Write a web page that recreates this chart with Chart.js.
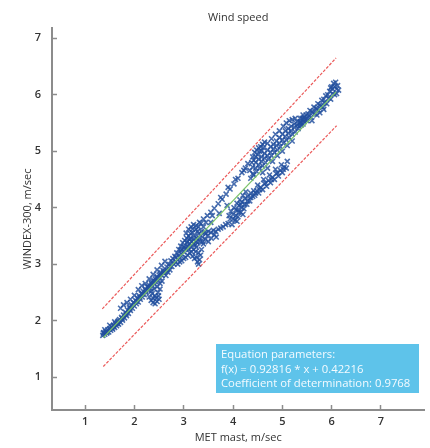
<!DOCTYPE html>
<html>
<head>
<meta charset="utf-8">
<script src="https://cdn.jsdelivr.net/npm/chart.js@4.4.0/dist/chart.umd.min.js"></script>
<style>
  html, body { margin: 0; padding: 0; background: #fff; }
  #wrap { width: 430px; height: 448px; }
</style>
</head>
<body>
<div id="wrap"><canvas id="windChart"></canvas></div>
<script>
// --- DATA: [MET mast, WINDEX-300] pairs, m/sec ---

const firstRamp = [
  [1.36,1.74],[1.38,1.79],[1.40,1.76],[1.42,1.81],[1.44,1.78],[1.46,1.84],[1.48,1.80],[1.50,1.86],
  [1.52,1.83],[1.54,1.89],[1.56,1.85],[1.58,1.92],[1.60,1.88],[1.62,1.95],[1.64,1.91],[1.66,1.98],
  [1.68,1.94],[1.70,2.02],[1.72,1.97],[1.74,2.06],[1.76,2.01],[1.78,2.10],[1.80,2.05],[1.82,2.15],
  [1.84,2.09],[1.86,2.19],[1.88,2.13],[1.90,2.24],[1.92,2.18],[1.94,2.28],
  [1.72,2.22],[1.78,2.28],[1.85,2.32],[1.92,2.38],[1.40,1.84],[1.50,1.92],[1.60,1.98],
  [1.37,1.78],[1.45,1.80],[1.55,1.87],[1.65,1.95],[1.75,2.04],[1.83,2.12],[1.91,2.21],[1.68,2.00],[1.58,1.90]
];

const secondRamp = [
  [1.96,2.22],[1.98,2.32],[2.00,2.26],[2.02,2.36],[2.04,2.30],[2.06,2.40],[2.08,2.33],[2.10,2.44],
  [2.12,2.38],[2.14,2.48],[2.16,2.42],[2.18,2.52],[2.20,2.46],[2.22,2.56],[2.24,2.50],[2.26,2.60],
  [2.28,2.54],[2.30,2.63],[2.32,2.58],[2.34,2.67],[2.36,2.62],[2.38,2.71],[2.40,2.66],[2.42,2.74],
  [2.44,2.69],[2.46,2.78],[2.48,2.72],[2.50,2.81],[2.52,2.76],[2.54,2.85],[2.56,2.80],[2.58,2.89],[2.60,2.84],
  [2.00,2.45],[2.08,2.55],[2.15,2.62],[2.22,2.66],[2.30,2.74],[2.38,2.82],[2.46,2.90],[2.55,2.98],[2.62,3.05],
  [2.30,2.42],[2.34,2.36],[2.38,2.32],[2.42,2.30],[2.46,2.34],[2.50,2.38],[2.36,2.48],[2.42,2.44],
  [2.48,2.50],[2.52,2.56],[2.40,2.56],[2.46,2.60],[2.52,2.66],[2.56,2.70],[2.34,2.52],
  [2.05,2.34],[2.11,2.41],[2.17,2.47],[2.23,2.53],[2.29,2.59],[2.35,2.65],[2.41,2.70],[2.47,2.76],
  [2.53,2.82],[2.59,2.86],[2.44,2.40],[2.38,2.40],[2.49,2.44]
];

const denseCluster = [
  [2.62,2.88],[2.64,2.80],[2.66,2.95],[2.68,2.86],[2.70,3.00],[2.72,2.90],[2.74,3.06],[2.76,2.96],
  [2.78,3.10],[2.80,3.00],[2.82,3.14],[2.84,3.04],[2.86,3.20],[2.88,3.08],[2.90,3.26],[2.92,3.12],
  [2.94,3.32],[2.96,3.18],[2.98,3.38],[3.00,3.22],[3.02,3.42],[3.04,3.28],[3.06,3.46],[3.08,3.32],
  [3.10,3.50],[3.12,3.36],[3.14,3.54],[3.16,3.40],[3.18,3.56],[3.20,3.44],
  [2.88,3.00],[2.92,3.04],[2.96,3.06],[3.00,3.10],[3.04,3.12],[3.08,3.16],[3.12,3.20],[3.16,3.22],
  [3.20,3.26],[3.24,3.22],[3.26,3.12],[3.28,3.04],[3.30,3.00],[3.32,3.08],[3.26,3.30],[3.30,3.20],
  [3.34,3.16],[3.36,3.26],[3.22,3.10],[3.18,3.14],
  [3.22,3.50],[3.26,3.46],[3.30,3.54],[3.34,3.40],[3.38,3.48],[3.42,3.56],[3.44,3.44],[3.40,3.36],
  [3.36,3.58],[3.28,3.38],[3.24,3.34],[3.00,3.30],[3.06,3.38],[3.12,3.44],[2.94,3.24],[3.10,3.26],[3.16,3.30],
  [3.05,3.55],[3.10,3.62],[3.15,3.66],[3.20,3.70],[3.25,3.62],[3.30,3.66],[3.35,3.72],[3.40,3.66],
  [3.45,3.74],[3.18,3.62],[3.28,3.58],
  [2.90,3.16],[2.96,3.26],[3.02,3.30],[3.08,3.40],[3.14,3.46],[3.20,3.36],[3.26,3.40],[3.32,3.46],
  [3.38,3.40],[2.84,3.12],[2.78,3.04],[2.72,2.96],[2.66,2.90],
  [3.50,3.40],[3.56,3.46],[3.62,3.52],[3.48,3.50],[3.66,3.48]
];

const upperArm = [
  [3.25,3.68],[3.32,3.74],[3.40,3.80],[3.48,3.86],[3.55,3.92],[3.62,3.99],[3.70,4.07],[3.78,4.15],
  [3.86,4.24],[3.94,4.33],[4.02,4.42],[4.10,4.52],[4.18,4.62],[4.25,4.70],[4.30,4.78],
  [3.58,3.86],[3.75,4.18],[3.90,4.36],[4.05,4.50],[4.22,4.66],
  [3.55,3.74],[3.72,3.90],[3.88,4.04]
];

const lowerArm = [
  [3.45,3.55],[3.50,3.58],[3.55,3.56],[3.60,3.60],[3.65,3.58],[3.70,3.62],[3.75,3.64],[3.80,3.66],[3.85,3.70],
  [3.90,3.72],[3.94,3.80],[3.98,3.70],[4.00,3.88],[4.04,3.78],[4.06,3.96],[4.10,3.84],[4.12,4.04],
  [4.16,3.92],[4.18,4.10],[4.22,3.98],[4.24,4.16],[4.28,4.06],[4.30,4.20],[4.34,4.12],[4.36,4.26],
  [4.40,4.20],[4.42,4.30],[4.46,4.26],[3.96,3.94],[4.02,4.00],[4.08,4.08],[4.14,4.14],[4.20,4.22],
  [4.26,4.28],[3.92,3.86],[4.08,3.76],[4.20,3.88],
  [4.44,4.22],[4.48,4.30],[4.52,4.26],[4.56,4.36],[4.60,4.32],[4.64,4.42],[4.68,4.38],[4.72,4.48],
  [4.76,4.44],[4.80,4.54],[4.84,4.50],[4.88,4.60],[4.92,4.56],[4.96,4.66],[5.00,4.62],[5.04,4.72],
  [5.08,4.70],[4.50,4.40],[4.62,4.50],[4.74,4.58],[4.86,4.68],[4.98,4.76],[5.10,4.82],
  [4.00,3.80],[4.06,3.86],[4.12,3.92],[4.18,4.00],[4.24,4.06],[4.30,4.12],[4.36,4.18],[4.10,3.96],
  [4.16,4.06],[4.54,4.32],[4.66,4.44],[4.78,4.50],[4.90,4.62],[5.02,4.68]
];

const upperBlob = [
  [4.36,4.52],[4.42,4.58],[4.48,4.64],[4.54,4.70],[4.60,4.74],[4.66,4.80],[4.72,4.86],[4.78,4.92],
  [4.84,4.98],[4.90,5.02],[4.96,5.08],[5.02,5.14],[5.08,5.20],[5.14,5.24],[5.20,5.30],[5.26,5.34],
  [5.32,5.40],[5.38,5.46],[5.44,5.52],[5.50,5.58],
  [4.34,4.66],[4.40,4.72],[4.46,4.80],[4.52,4.86],[4.58,4.90],[4.64,4.96],[4.70,5.02],[4.76,5.08],
  [4.82,5.12],[4.88,5.18],[4.94,5.24],[5.00,5.30],[5.06,5.36],[5.12,5.40],[5.18,5.44],[5.24,5.48],
  [5.30,5.52],[5.36,5.58],[5.42,5.64],
  [4.38,4.80],[4.46,4.90],[4.54,5.00],[4.62,5.06],[4.70,5.14],[4.78,5.22],[4.86,5.30],[4.94,5.36],
  [5.02,5.44],[5.08,5.50],[5.14,5.54],[5.20,5.56],[5.26,5.58],
  [4.40,4.90],[4.44,4.98],[4.48,5.02],[4.52,5.06],[4.56,5.08],[4.60,5.12],[4.64,5.16],[4.50,4.94],
  [4.58,5.00],[4.42,4.84],
  [4.40,4.60],[4.46,4.70],[4.52,4.76],[4.58,4.82],[4.64,4.88],[4.70,4.92],[4.76,4.98],[4.82,5.04],
  [4.88,5.10],[4.94,5.14],[5.00,5.20],[5.06,5.26],[5.12,5.32],[5.18,5.36],[5.24,5.42],[5.30,5.46],
  [5.36,5.50],[5.42,5.56],[4.60,4.62],[4.80,4.82],[5.00,5.00],[4.90,4.92],[4.70,4.70],[5.10,5.10],[5.20,5.18]
];

const finalRun = [
  [5.34,5.44],[5.38,5.50],[5.42,5.48],[5.46,5.56],[5.50,5.54],[5.54,5.62],[5.58,5.60],[5.62,5.68],
  [5.66,5.66],[5.70,5.74],[5.74,5.72],[5.78,5.80],[5.82,5.78],[5.86,5.86],[5.90,5.84],[5.94,5.94],
  [5.98,5.92],[6.02,6.02],[6.06,6.00],[6.10,6.10],[5.40,5.58],[5.48,5.64],[5.56,5.72],[5.64,5.78],
  [5.72,5.84],[5.80,5.90],[5.88,5.98],[5.96,6.06],[6.00,6.14],[6.04,6.20],[6.08,6.22],[6.12,6.16],
  [6.14,6.08],[6.10,6.02],[5.98,6.12],[5.60,5.54],[5.70,5.64],[5.76,5.68],[5.84,5.74],
  [5.36,5.52],[5.44,5.60],[5.52,5.66],[5.60,5.70],[5.68,5.76],[5.76,5.82],[5.84,5.92],[5.92,6.00],
  [6.02,6.10],[6.06,6.14]
];

// regression line and the two red band lines (end points)
const fitLine   = [[1.37,1.70],[6.09,6.05]];
const upperBand = [[1.35,2.21],[6.09,6.65]];
const lowerBand = [[1.37,1.19],[6.10,5.45]];

const xTicks = [1, 2, 3, 4, 5, 6, 7];
const yTicks = [1, 2, 3, 4, 5, 6, 7];

const equationLines = [
  'Equation parameters:',
  'f(x) = 0.92816 * x + 0.42216',
  'Coefficient of determination: 0.9768'
];

// --- helpers ---
const toPts = arr => arr.map(p => ({ x: p[0], y: p[1] }));
const FONT = '"Open Sans", "DejaVu Sans", sans-serif';
const AXIS_GREY = '#8c8c8c';

const samples = [].concat(firstRamp, secondRamp, denseCluster, upperArm, lowerArm, upperBlob, finalRun);

// light-blue box with the equation, bottom right
const equationBox = {
  id: 'equationBox',
  afterDatasetsDraw(chart) {
    const ctx = chart.ctx;
    ctx.save();
    ctx.fillStyle = '#5ec3ea';
    ctx.fillRect(216, 344, 203, 49);
    ctx.fillStyle = '#f4fbff';
    ctx.font = '11.3px ' + FONT;
    ctx.textBaseline = 'middle';
    ctx.textAlign = 'left';
    equationLines.forEach((t, i) => ctx.fillText(t, 221, 355 + i * 14.3));
    ctx.restore();
  }
};

const ctx = document.getElementById('windChart').getContext('2d');
const windChart = new Chart(ctx, {
  type: 'scatter',
  data: {
    datasets: [
      { label: 'fit', data: toPts(fitLine), type: 'line', showLine: true, borderColor: '#7cc46a',
        borderWidth: 1.3, pointRadius: 0, order: 0 },
      { label: 'upper', data: toPts(upperBand), type: 'line', showLine: true, borderColor: 'rgba(232,60,60,0.85)',
        borderWidth: 1.2, borderDash: [3, 1.5], pointRadius: 0, order: 1 },
      { label: 'lower', data: toPts(lowerBand), type: 'line', showLine: true, borderColor: 'rgba(232,60,60,0.85)',
        borderWidth: 1.2, borderDash: [3, 1.5], pointRadius: 0, order: 1 },
      { label: 'WINDEX-300', data: toPts(samples), pointStyle: 'crossRot', pointRadius: 3.5,
        borderColor: 'rgba(33,78,158,0.82)', backgroundColor: 'rgba(33,78,158,0.82)', pointBorderWidth: 1.6, order: 2 }
    ]
  },
  options: {
    responsive: true, maintainAspectRatio: false, animation: false,
    layout: { padding: { top: 2.8, left: 0, right: 0, bottom: 0 } },
    plugins: {
      legend: { display: false },
      tooltip: { enabled: false },
      title: { display: true, fullSize: false, text: 'Wind speed', color: '#333',
               font: { family: FONT, size: 11, weight: 'normal' }, padding: { top: 8, bottom: 4 } }
    },
    scales: {
      x: {
        type: 'linear', min: 0.33, max: 7.88,
        afterBuildTicks: s => { s.ticks = xTicks.map(v => ({ value: v })); },
        afterFit: s => { s.height = 38; },
        grid: { drawOnChartArea: false, tickLength: -5, tickColor: AXIS_GREY, tickWidth: 1.5 },
        border: { color: AXIS_GREY, width: 2 },
        ticks: { color: '#333', font: { family: FONT, size: 11, weight: '600' }, padding: 10 },
        title: { display: true, text: 'MET mast, m/sec', color: '#333', font: { family: FONT, size: 11 }, padding: { top: 4, bottom: 4 } }
      },
      y: {
        type: 'linear', min: 0.42, max: 7.18,
        afterBuildTicks: s => { s.ticks = yTicks.map(v => ({ value: v })); },
        afterFit: s => { s.width = 52; },
        grid: { drawOnChartArea: false, tickLength: -5, tickColor: AXIS_GREY, tickWidth: 1.5 },
        border: { color: AXIS_GREY, width: 2 },
        ticks: { color: '#333', font: { family: FONT, size: 11, weight: '600' }, padding: 16 },
        title: { display: true, text: 'WINDEX-300, m/sec', color: '#333', font: { family: FONT, size: 11 }, padding: { top: 21, bottom: 0 } }
      }
    }
  },
  plugins: [equationBox]
});
</script>
</body>
</html>
